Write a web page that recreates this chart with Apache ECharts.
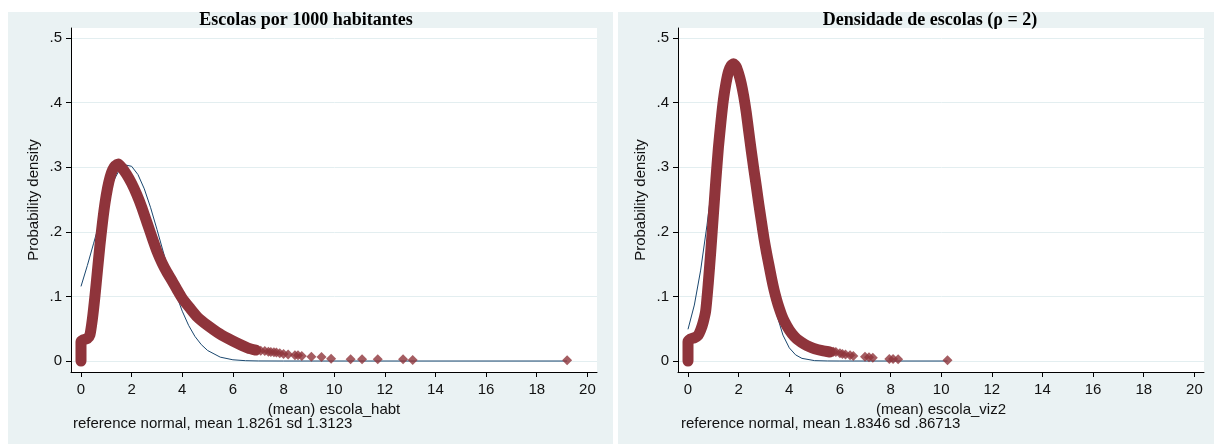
<!DOCTYPE html>
<html>
<head>
<meta charset="utf-8">
<script src="https://cdn.jsdelivr.net/npm/echarts@6/dist/echarts.min.js"></script>
<style>
  html, body { margin: 0; padding: 0; background: #fff; }
  #chart { width: 1214px; height: 444px; }
</style>
</head>
<body>
<div id="chart"></div>
<script>
// axis ticks
const xTicks = [0, 2, 4, 6, 8, 10, 12, 14, 16, 18, 20];
const yTicks = [0, 0.1, 0.2, 0.3, 0.4, 0.5];

// left: escola_habt kernel density (dense part)
const habtX = [0, 0, 0.1, 0.25, 0.35, 0.45, 0.55, 0.65, 0.75, 0.85, 0.95, 1.05, 1.15, 1.25, 1.35, 1.47, 1.6, 1.8, 2.0, 2.2, 2.4, 2.6, 2.8, 3.0, 3.2, 3.4, 3.6, 3.8, 4.0, 4.3, 4.6, 5.0, 5.4, 5.8, 6.2, 6.6, 6.9];
const habtY = [0, 0.030, 0.033, 0.035, 0.040, 0.065, 0.100, 0.140, 0.180, 0.215, 0.245, 0.268, 0.285, 0.296, 0.302, 0.305, 0.300, 0.289, 0.275, 0.258, 0.238, 0.215, 0.192, 0.170, 0.152, 0.137, 0.124, 0.110, 0.097, 0.082, 0.068, 0.055, 0.044, 0.035, 0.027, 0.020, 0.017];
// left: isolated points in the tail
const habtTailX = [7.1, 7.26, 7.4, 7.5, 7.62, 7.72, 7.85, 8.0, 8.18, 8.45, 8.57, 8.72, 9.1, 9.5, 9.88, 10.65, 11.1, 11.72, 12.72, 13.1, 19.2];
const habtTailY = [0.016, 0.0155, 0.0145, 0.014, 0.0135, 0.013, 0.012, 0.011, 0.010, 0.009, 0.0088, 0.0077, 0.0067, 0.0062, 0.0036, 0.0026, 0.0026, 0.0026, 0.0026, 0.0015, 0.001];
// left: reference normal (mean 1.8261, sd 1.3123)
const habtNormX = [0, 0.25, 0.5, 0.75, 1, 1.25, 1.5, 1.75, 2, 2.25, 2.5, 2.75, 3, 3.25, 3.5, 3.75, 4, 4.25, 4.5, 4.75, 5, 5.5, 6, 6.5, 7, 8, 19.2];
const habtNormY = [0.1155, 0.1478, 0.1824, 0.2172, 0.2494, 0.2761, 0.2948, 0.3035, 0.3014, 0.2886, 0.2665, 0.2373, 0.2038, 0.1688, 0.1348, 0.1038, 0.0771, 0.0552, 0.0381, 0.0254, 0.0163, 0.0060, 0.0019, 0.0005, 0.0001, 0, 0];

// right: escola_viz2 kernel density (dense part)
const vizX = [0, 0, 0.1, 0.25, 0.4, 0.5, 0.6, 0.7, 0.8, 0.9, 1.0, 1.1, 1.2, 1.3, 1.4, 1.5, 1.6, 1.7, 1.8, 1.9, 2.0, 2.1, 2.2, 2.3, 2.4, 2.5, 2.6, 2.7, 2.8, 2.9, 3.0, 3.1, 3.2, 3.3, 3.4, 3.5, 3.6, 3.7, 3.8, 4.0, 4.2, 4.4, 4.6, 4.8, 5.0, 5.3, 5.6];
const vizY = [0, 0.030, 0.034, 0.036, 0.040, 0.048, 0.060, 0.078, 0.120, 0.170, 0.225, 0.280, 0.330, 0.370, 0.405, 0.430, 0.448, 0.457, 0.460, 0.456, 0.445, 0.430, 0.410, 0.385, 0.355, 0.325, 0.297, 0.270, 0.242, 0.216, 0.190, 0.168, 0.148, 0.128, 0.110, 0.095, 0.082, 0.071, 0.062, 0.048, 0.038, 0.031, 0.026, 0.022, 0.019, 0.016, 0.014];
const vizTailX = [5.75, 5.84, 6.0, 6.1, 6.22, 6.4, 6.53, 6.99, 7.15, 7.3, 7.95, 8.1, 8.3, 10.25];
const vizTailY = [0.0145, 0.014, 0.012, 0.011, 0.010, 0.009, 0.0077, 0.0067, 0.006, 0.0052, 0.003, 0.003, 0.0026, 0.001];
// right: reference normal (mean 1.8346, sd .86713)
const vizNormX = [0, 0.25, 0.5, 0.75, 1, 1.25, 1.5, 1.75, 2, 2.25, 2.5, 2.75, 3, 3.25, 3.5, 3.75, 4, 4.25, 4.5, 5, 5.5, 6, 10.25];
const vizNormY = [0.0491, 0.0866, 0.1407, 0.2104, 0.2895, 0.3666, 0.4271, 0.4579, 0.4518, 0.4102, 0.3428, 0.2636, 0.1865, 0.1214, 0.0727, 0.0401, 0.0204, 0.0095, 0.0041, 0.0006, 0.0001, 0, 0];

const pairs = (xs, ys) => xs.map((x, i) => [x, ys[i]]);

const BG = '#eaf2f3';
const MAROON = '#8f343b';
const NAVY = '#1a476f';
const FONT = "'Liberation Sans', Arial, sans-serif";

const chart = echarts.init(document.getElementById('chart'), null, { renderer: 'canvas' });

function yLabel(v) {
  if (v === 0) return '0';
  return String(Math.round(v * 10) / 10).replace('0.', '.');
}

function makeAxes(gridIndex, name) {
  const xAxis = {
    type: 'value', gridIndex: gridIndex, min: -0.395, max: 20.38,
    name: name, nameLocation: 'middle', nameGap: 19,
    nameTextStyle: { fontFamily: FONT, fontSize: 15, color: '#111' },
    axisLine: { onZero: false, lineStyle: { color: '#000', width: 1 } },
    axisTick: { customValues: xTicks, length: 5, lineStyle: { color: '#000' } },
    axisLabel: { customValues: xTicks, margin: 10, fontFamily: FONT, fontSize: 15, color: '#111' },
    splitLine: { show: false }
  };
  const yAxis = {
    type: 'value', gridIndex: gridIndex, min: -0.017, max: 0.5155,
    name: 'Probability density', nameLocation: 'middle', nameGap: 30, nameRotate: 90,
    nameTextStyle: { fontFamily: FONT, fontSize: 15, color: '#111' },
    axisLine: { onZero: false, lineStyle: { color: '#000', width: 1 } },
    axisTick: { customValues: yTicks, length: 5, lineStyle: { color: '#000' } },
    axisLabel: { customValues: yTicks, margin: 9, fontFamily: FONT, fontSize: 15, color: '#111', formatter: yLabel },
    splitLine: { show: false }
  };
  return [xAxis, yAxis];
}

// hidden axes on a grid spanning 0..0.5 only, used for the light horizontal grid lines
function gridLineAxes(gridIndex) {
  return [
    { type: 'value', gridIndex: gridIndex, min: 0, max: 20, show: false },
    {
      type: 'value', gridIndex: gridIndex, min: 0, max: 0.5, interval: 0.1,
      axisLine: { show: false }, axisTick: { show: false }, axisLabel: { show: false },
      splitLine: { show: true, lineStyle: { color: '#e3eef0', width: 1 } }
    }
  ];
}

function makeSeries(idx, dens, tail, norm) {
  return [
    {
      type: 'line', xAxisIndex: idx, yAxisIndex: idx, data: norm, z: 3,
      showSymbol: false, lineStyle: { color: NAVY, width: 1 }
    },
    {
      type: 'line', xAxisIndex: idx, yAxisIndex: idx, data: dens, z: 4,
      showSymbol: false, smooth: 0.2,
      lineStyle: { color: MAROON, width: 11, cap: 'round', join: 'round' }
    },
    {
      type: 'scatter', xAxisIndex: idx, yAxisIndex: idx, data: tail, z: 5,
      symbol: 'diamond', symbolSize: 10, itemStyle: { color: MAROON }
    }
  ];
}

const leftAxes = makeAxes(0, '(mean) escola_habt');
const rightAxes = makeAxes(1, '(mean) escola_viz2');
const leftGridLines = gridLineAxes(2);
const rightGridLines = gridLineAxes(3);

chart.setOption({
  animation: false,
  backgroundColor: '#fff',
  graphic: [
    { type: 'rect', z: -10, shape: { x: 8, y: 12, width: 605, height: 432 }, style: { fill: BG } },
    { type: 'rect', z: -10, shape: { x: 618, y: 12, width: 596, height: 432 }, style: { fill: BG } },
    { type: 'rect', z: -9, shape: { x: 71, y: 28, width: 526, height: 344 }, style: { fill: '#fff' } },
    { type: 'rect', z: -9, shape: { x: 678, y: 28, width: 526, height: 344 }, style: { fill: '#fff' } },
    { type: 'text', x: 306, y: 20, style: { text: 'Escolas por 1000 habitantes', font: "bold 18px 'Liberation Serif', 'Times New Roman', serif", fill: '#000', align: 'center', verticalAlign: 'middle' } },
    { type: 'text', x: 930, y: 20, style: { text: 'Densidade de escolas (\u03c1 = 2)', font: "bold 18px 'Liberation Serif', 'Times New Roman', serif", fill: '#000', align: 'center', verticalAlign: 'middle' } },
    { type: 'text', x: 73, y: 424, style: { text: 'reference normal, mean 1.8261 sd 1.3123', font: "15px 'Liberation Sans', Arial, sans-serif", fill: '#111', align: 'left', verticalAlign: 'middle' } },
    { type: 'text', x: 681, y: 424, style: { text: 'reference normal, mean 1.8346 sd .86713', font: "15px 'Liberation Sans', Arial, sans-serif", fill: '#111', align: 'left', verticalAlign: 'middle' } }
  ],
  grid: [
    { left: 71, top: 28, width: 526, height: 344 },
    { left: 678, top: 28, width: 526, height: 344 },
    { left: 72, top: 38, width: 525, height: 323 },
    { left: 679, top: 38, width: 525, height: 323 }
  ],
  xAxis: [leftAxes[0], rightAxes[0], leftGridLines[0], rightGridLines[0]],
  yAxis: [leftAxes[1], rightAxes[1], leftGridLines[1], rightGridLines[1]],
  series: [
    ...makeSeries(0, pairs(habtX, habtY), pairs(habtTailX, habtTailY), pairs(habtNormX, habtNormY)),
    ...makeSeries(1, pairs(vizX, vizY), pairs(vizTailX, vizTailY), pairs(vizNormX, vizNormY))
  ]
});
</script>
</body>
</html>
